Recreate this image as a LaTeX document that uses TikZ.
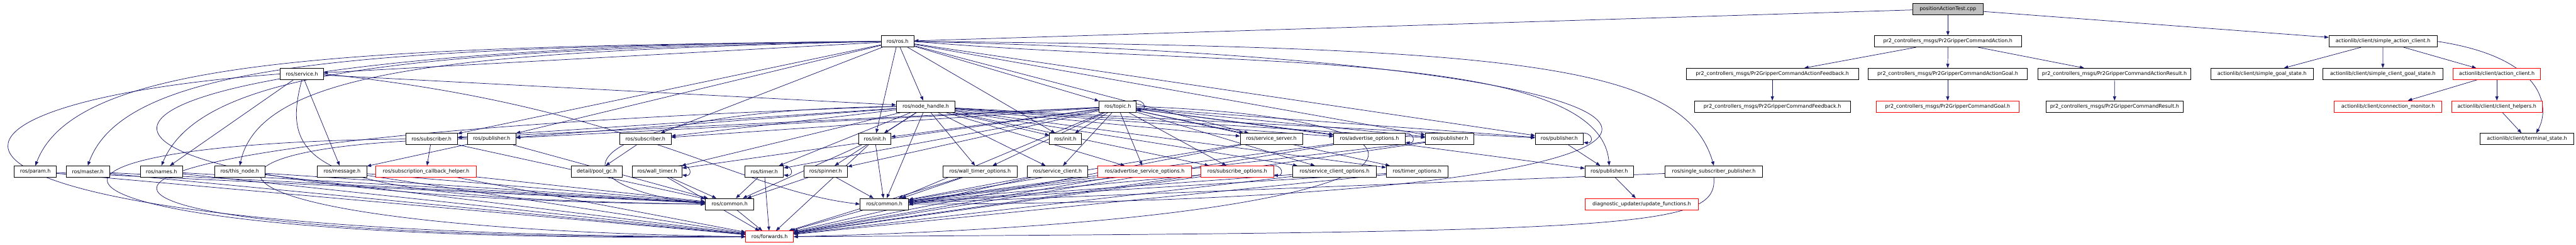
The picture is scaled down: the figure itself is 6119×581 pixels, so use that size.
\documentclass[tikz,border=0pt]{standalone}
\usepackage{fontspec}
\setmainfont{DejaVu Sans}
\usepackage{xcolor}
\usetikzlibrary{arrows.meta, backgrounds}
\definecolor{cEdge}{RGB}{25,25,112}
\definecolor{cSrc}{RGB}{191,191,191}
\tikzset{
	hdr/.style  ={rectangle, draw=black, line width=1.1pt, fill=white, minimum height=27pt, inner sep=2pt, font=\fontsize{12}{14}\selectfont},
	trunc/.style={hdr, draw=red},
	srcf/.style ={hdr, fill=cSrc},
	dep/.style  ={draw=cEdge, line width=1.1pt, -{Triangle[length=10pt, width=7.5pt]}},
}

\begin{document}
\begin{tikzpicture}[x=1pt, y=1pt]
	\useasboundingbox (0,0) rectangle (6119,581);
	% row 0 and 1
	\node[srcf, minimum width=166] (src) at (4627,560) {positionActionTest.cpp};
	\node[hdr, minimum width=78] (rosh) at (2132,482.8) {ros/ros.h};
	\node[hdr, minimum width=350] (act) at (4627,482.8) {pr2\_controllers\_msgs/Pr2GripperCommandAction.h};
	\node[hdr, minimum width=257] (sac) at (5660.5,482.8) {actionlib/client/simple\_action\_client.h};
	% row 2
	\node[hdr, minimum width=102] (service) at (717,405.6) {ros/service.h};
	\node[hdr, minimum width=410] (afb) at (4210,405.6) {pr2\_controllers\_msgs/Pr2GripperCommandActionFeedback.h};
	\node[hdr, minimum width=379] (agoal) at (4626.5,405.6) {pr2\_controllers\_msgs/Pr2GripperCommandActionGoal.h};
	\node[hdr, minimum width=363] (ares) at (5022.5,405.6) {pr2\_controllers\_msgs/Pr2GripperCommandActionResult.h};
	\node[hdr, minimum width=244] (sgs) at (5373,405.6) {actionlib/client/simple\_goal\_state.h};
	\node[hdr, minimum width=286] (scgs) at (5660,405.6) {actionlib/client/simple\_client\_goal\_state.h};
	\node[trunc, minimum width=208] (acl) at (5931,405.6) {actionlib/client/action\_client.h};
	% row 3
	\node[hdr, minimum width=140] (nh) at (2199,328.4) {ros/node\_handle.h};
	\node[hdr, minimum width=88] (topic) at (2655,328.4) {ros/topic.h};
	\node[hdr, minimum width=370] (fb) at (4210,328.4) {pr2\_controllers\_msgs/Pr2GripperCommandFeedback.h};
	\node[trunc, minimum width=339] (goal) at (4626.5,328.4) {pr2\_controllers\_msgs/Pr2GripperCommandGoal.h};
	\node[hdr, minimum width=326] (res) at (5023,328.4) {pr2\_controllers\_msgs/Pr2GripperCommandResult.h};
	\node[trunc, minimum width=255] (cm) at (5672.5,328.4) {actionlib/client/connection\_monitor.h};
	\node[trunc, minimum width=216] (ch) at (5931,328.4) {actionlib/client/client\_helpers.h};
	% row 4
	\node[hdr, minimum width=123] (subA) at (1025,251.2) {ros/subscriber.h};
	\node[hdr, minimum width=115] (pubA) at (1167.7,251.2) {ros/publisher.h};
	\node[hdr, minimum width=122] (subB) at (1533,251.2) {ros/subscriber.h};
	\node[hdr, minimum width=76] (initA) at (2078,251.2) {ros/init.h};
	\node[hdr, minimum width=75] (initB) at (2530.5,251.2) {ros/init.h};
	\node[hdr, minimum width=148] (ssrv) at (3020,251.2) {ros/service\_server.h};
	\node[hdr, minimum width=170] (advo) at (3253,251.2) {ros/advertise\_options.h};
	\node[hdr, minimum width=115] (pubB) at (3443.5,251.2) {ros/publisher.h};
	\node[hdr, minimum width=114] (pubC) at (3704,251.2) {ros/publisher.h};
	\node[hdr, minimum width=222] (term) at (6002.5,251.2) {actionlib/client/terminal\_state.h};
	% row 5
	\node[hdr, minimum width=100] (param) at (84,174) {ros/param.h};
	\node[hdr, minimum width=103] (master) at (208.5,174) {ros/master.h};
	\node[hdr, minimum width=101] (names) at (383.5,174) {ros/names.h};
	\node[hdr, minimum width=119] (thisnode) at (569.5,174) {ros/this\_node.h};
	\node[hdr, minimum width=117] (msg) at (812.5,174) {ros/message.h};
	\node[trunc, minimum width=238] (sch) at (1012,174) {ros/subscription\_callback\_helper.h};
	\node[hdr, minimum width=121] (poolgc) at (1417.5,174) {detail/pool\_gc.h};
	\node[hdr, minimum width=118] (wt) at (1561,174) {ros/wall\_timer.h};
	\node[hdr, minimum width=91] (timer) at (1815.5,174) {ros/timer.h};
	\node[hdr, minimum width=104] (spin) at (1961,174) {ros/spinner.h};
	\node[hdr, minimum width=176] (wto) at (2328,174) {ros/wall\_timer\_options.h};
	\node[hdr, minimum width=144] (sc) at (2512,174) {ros/service\_client.h};
	\node[trunc, minimum width=222] (aso) at (2719,174) {ros/advertise\_service\_options.h};
	\node[trunc, minimum width=172] (subo) at (2939,174) {ros/subscribe\_options.h};
	\node[hdr, minimum width=198] (sco) at (3170,174) {ros/service\_client\_options.h};
	\node[hdr, minimum width=146] (tmo) at (3366,174) {ros/timer\_options.h};
	\node[hdr, minimum width=115] (pubD) at (3822.5,174) {ros/publisher.h};
	\node[hdr, minimum width=232] (ssp) at (4071,174) {ros/single\_subscriber\_publisher.h};
	% row 6 and 7
	\node[hdr, minimum width=115] (comA) at (1733,96.8) {ros/common.h};
	\node[hdr, minimum width=115] (comB) at (2100.5,96.8) {ros/common.h};
	\node[trunc, minimum width=269] (upd) at (3899.5,96.8) {diagnostic\_updater/update\_functions.h};
	\node[trunc, minimum width=113] (fwd) at (1828,19.6) {ros/forwards.h};

	\begin{pgfonlayer}{background}
	% positionActionTest.cpp and the action messages
	\draw[dep] (src) -- (rosh);
	\draw[dep] (src) -- (act);
	\draw[dep] (src) -- (sac);
	\draw[dep] (act) -- (afb);
	\draw[dep] (act) -- (agoal);
	\draw[dep] (act) -- (ares);
	\draw[dep] (afb) -- (fb);
	\draw[dep] (agoal) -- (goal);
	\draw[dep] (ares) -- (res);
	% actionlib
	\draw[dep] (sac) -- (sgs);
	\draw[dep] (sac) -- (scgs);
	\draw[dep] (sac) -- (acl);
	\draw[dep] (sac.east) .. controls (6040,445) and (6060,330) .. ([xshift=22pt]term.north);
	\draw[dep] (acl) -- (cm);
	\draw[dep] (acl) -- (ch);
	\draw[dep] (ch) -- (term);
	% ros/ros.h
	\draw[dep] (rosh) -- (service);
	\draw[dep] (rosh.west) .. controls (800,470) and (180,440) .. (param.north);
	\draw[dep] (rosh.west) .. controls (900,468) and (300,440) .. (master.north);
	\draw[dep] (rosh.west) .. controls (1000,462) and (480,420) .. (names.north);
	\draw[dep] (rosh.west) .. controls (1100,458) and (620,420) .. (thisnode.north);
	\draw[dep] (rosh.west) .. controls (-150,470) and (-100,110) .. (comA.west);
	\draw[dep] (rosh) -- (subA);
	\draw[dep] (rosh) -- (pubA);
	\draw[dep] (rosh) -- (subB);
	\draw[dep] (rosh) -- (nh);
	\draw[dep] (rosh) -- (initA);
	\draw[dep] (rosh) -- (initB);
	\draw[dep] (rosh) -- (topic);
	\draw[dep] (rosh) -- (ssrv);
	\draw[dep] (rosh) -- (pubB);
	\draw[dep] (rosh) -- (pubC);
	\draw[dep] (rosh.east) .. controls (2900,420) and (3800,470) .. (pubD.north);
	\draw[dep] (rosh.east) .. controls (3600,470) and (4000,430) .. (ssp.north);
	\draw[dep] (rosh.east) .. controls (4400,430) and (4300,100) .. (comB.east);
	% ros/service.h
	\draw[dep] (service) -- (names);
	\draw[dep] (service) -- (msg);
	\draw[dep] (service) -- (nh);
	\draw[dep] (service.south) .. controls (660,180) and (760,110) .. (comA.west);
	\draw[dep] (service.east) .. controls (1500,330) and (1750,130) .. (comB.west);
	\draw[dep] (service.west) .. controls (-350,330) and (-300,20) .. (fwd.west);
	% ros/node_handle.h
	\draw[dep] (nh) -- (subA);
	\draw[dep] (nh) -- (pubA);
	\draw[dep] (nh) -- (subB);
	\draw[dep] (nh) -- (wt);
	\draw[dep] (nh) -- (timer);
	\draw[dep] (nh) -- (spin);
	\draw[dep] (nh) -- (initA);
	\draw[dep] (nh) -- (initB);
	\draw[dep] (nh) -- (wto);
	\draw[dep] (nh) -- (sc);
	\draw[dep] (nh) -- (aso);
	\draw[dep] (nh) -- (subo);
	\draw[dep] (nh) -- (sco);
	\draw[dep] (nh) -- (tmo);
	\draw[dep] (nh) -- (ssrv);
	\draw[dep] (nh) -- (advo);
	\draw[dep] (nh) -- (pubB);
	\draw[dep] (nh) -- (pubC);
	\draw[dep] (nh) -- (comB);
	\draw[dep] (nh.west) .. controls (1400,320) and (1250,150) .. (comA.west);
	\draw[dep] (nh.west) .. controls (-200,250) and (-100,10) .. (fwd.west);
	% ros/topic.h
	\draw[dep] ([xshift=-8pt]topic.north east) .. controls +(32,4) and +(24,-3) .. ([yshift=6pt]topic.south east);
	\draw[dep] (topic) -- (subA);
	\draw[dep] (topic) -- (pubA);
	\draw[dep] (topic) -- (subB);
	\draw[dep] (topic) -- (wt);
	\draw[dep] (topic) -- (timer);
	\draw[dep] (topic) -- (spin);
	\draw[dep] (topic) -- (initA);
	\draw[dep] (topic) -- (initB);
	\draw[dep] (topic) -- (wto);
	\draw[dep] (topic) -- (sc);
	\draw[dep] (topic) -- (aso);
	\draw[dep] (topic) -- (subo);
	\draw[dep] (topic) -- (sco);
	\draw[dep] (topic) -- (tmo);
	\draw[dep] (topic) -- (ssrv);
	\draw[dep] (topic) -- (advo);
	\draw[dep] (topic) -- (pubB);
	\draw[dep] (topic) -- (pubC);
	\draw[dep] (topic) -- (pubD);
	\draw[dep] (topic) -- (comB);
	\draw[dep] (topic.east) .. controls (3560,300) and (3500,60) .. (fwd.east);
	% row 4 headers
	\draw[dep] (subA) -- (sch);
	\draw[dep] (subA) -- (comA);
	\draw[dep] (subA.west) .. controls (-150,240) and (0,0) .. (fwd.west);
	\draw[dep] (pubA) -- (msg);
	\draw[dep] (pubA) -- (comA);
	\draw[dep] (pubA.west) .. controls (350,240) and (400,40) .. (fwd.west);
	\draw[dep] (subB) -- (poolgc);
	\draw[dep] (initA) -- (comA);
	\draw[dep] (initA) -- (comB);
	\draw[dep] (initA) -- (fwd);
	\draw[dep] (ssrv) -- (comB);
	\draw[dep] (ssrv) -- (fwd);
	\draw[dep] ([xshift=-8pt]advo.north east) .. controls +(32,4) and +(24,-3) .. ([yshift=6pt]advo.south east);
	\draw[dep] (advo) -- (comB);
	\draw[dep] (advo) -- (fwd);
	\draw[dep] (pubB) -- (comB);
	\draw[dep] (pubB) -- (fwd);
	\draw[dep] ([xshift=-8pt]pubC.north east) .. controls +(32,4) and +(24,-3) .. ([yshift=6pt]pubC.south east);
	\draw[dep] (pubC) -- (pubD);
	% row 5 headers
	\draw[dep] (param) -- (comA);
	\draw[dep] (param) -- (fwd);
	\draw[dep] (master) -- (comA);
	\draw[dep] (master) -- (fwd);
	\draw[dep] (names) -- (comA);
	\draw[dep] (names) -- (fwd);
	\draw[dep] (thisnode) -- (comA);
	\draw[dep] (thisnode) -- (fwd);
	\draw[dep] (msg) -- (comA);
	\draw[dep] (msg) -- (fwd);
	\draw[dep] (sch) -- (comA);
	\draw[dep] (sch) -- (fwd);
	\draw[dep] ([xshift=-8pt]wt.north east) .. controls +(32,4) and +(24,-3) .. ([yshift=6pt]wt.south east);
	\draw[dep] (wt) -- (comA);
	\draw[dep] (wt) -- (fwd);
	\draw[dep] ([xshift=-8pt]timer.north east) .. controls +(32,4) and +(24,-3) .. ([yshift=6pt]timer.south east);
	\draw[dep] (timer) -- (comA);
	\draw[dep] (timer) -- (fwd);
	\draw[dep] (spin) -- (comA);
	\draw[dep] (spin) -- (comB);
	\draw[dep] (wto) -- (comB);
	\draw[dep] (wto) -- (fwd);
	\draw[dep] (sc) -- (comB);
	\draw[dep] (sc) -- (fwd);
	\draw[dep] (aso) -- (comB);
	\draw[dep] (aso) -- (fwd);
	\draw[dep] ([xshift=-8pt]subo.north east) .. controls +(32,4) and +(24,-3) .. ([yshift=6pt]subo.south east);
	\draw[dep] (subo) -- (comB);
	\draw[dep] (subo) -- (fwd);
	\draw[dep] (sco) -- (comB);
	\draw[dep] (sco) -- (fwd);
	\draw[dep] (tmo) -- (comB);
	\draw[dep] (tmo) -- (fwd);
	\draw[dep] (pubD) -- (upd);
	\draw[dep] (ssp) -- (comB);
	\draw[dep] (ssp.south) .. controls (4080,40) and (3900,30) .. (fwd.east);
	% ros/common.h
	\draw[dep] (comA) -- (fwd);
	\draw[dep] (comB) -- (fwd);
	\end{pgfonlayer}
\end{tikzpicture}
\end{document}
